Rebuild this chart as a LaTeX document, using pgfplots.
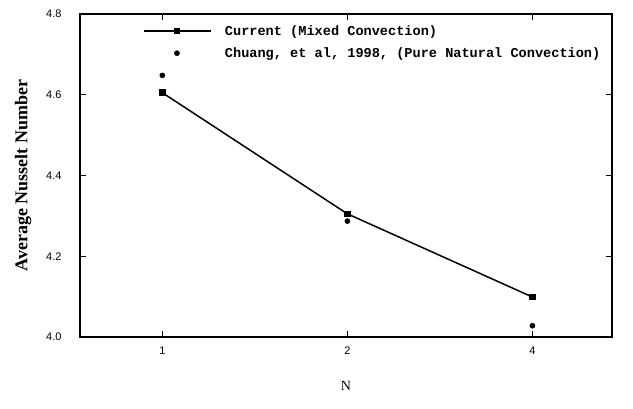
\documentclass[border=0pt]{standalone}
\usepackage{fontspec}
\setmainfont{Liberation Serif}
\setsansfont{Liberation Sans}
\setmonofont{Liberation Mono}
\usepackage{pgfplots}
\pgfplotsset{compat=1.18}
\pgfplotsset{
  curleg/.style={legend image code/.code={\path[draw=none,fill=none] (0pt,0pt) -- (79pt,0pt); \draw[##1, mark repeat=2, mark phase=2] plot coordinates {(0pt,0pt) (33pt,0pt) (67pt,0pt)};}},
  chuleg/.style={legend image code/.code={\path[draw=none,fill=none] (0pt,0pt) -- (79pt,0pt); \draw[##1] plot coordinates {(33pt,0pt)};}},
}
\begin{document}
\begin{tikzpicture}
\useasboundingbox (-80pt,-72pt) rectangle (553pt,337pt);
\begin{axis}[
  scale only axis,
  width=532pt, height=323pt,
  xmin=-0.445, xmax=2.43,
  ymin=4.0, ymax=4.8,
  xtick={0,1,2}, xticklabels={1,2,4},
  ytick={4.0,4.2,4.4,4.6,4.8},
  /pgf/number format/fixed, /pgf/number format/fixed zerofill, /pgf/number format/precision=1,
  /pgf/number format/assume math mode=true,
  tick align=inside,
  major tick length=6pt,
  axis line style={line width=2.2pt},
  tick style={line width=1.2pt, black},
  ticklabel style={font=\sffamily\fontsize{11}{13}\selectfont},
  yticklabel style={xshift=-15pt},
  xticklabel style={yshift=-6pt},
  xlabel={N},
  xlabel style={font=\fontsize{14}{16}\selectfont, yshift=-20pt},
  ylabel={Average Nusselt Number},
  ylabel style={font=\bfseries\fontsize{18}{20}\selectfont, yshift=8pt},
  legend style={draw=none, fill=none, at={(axis cs:-0.445,4.8)}, anchor=north west,
    xshift=60pt, yshift=-7pt,
    font=\ttfamily\bfseries\fontsize{13.6}{15}\selectfont,
    row sep=7pt},
  legend cell align=left,
]
\addplot[black, line width=1.5pt, mark=square*, mark size=2.5pt, curleg]
  coordinates {(0,4.605) (1,4.305) (2,4.099)};
\addlegendentry{Current (Mixed Convection)}
\addplot[black, only marks, mark=*, mark size=2.6pt, chuleg]
  coordinates {(0,4.648) (1,4.287) (2,4.028)};
\addlegendentry{Chuang, et al, 1998, (Pure Natural Convection)}
\end{axis}
\end{tikzpicture}
\end{document}
